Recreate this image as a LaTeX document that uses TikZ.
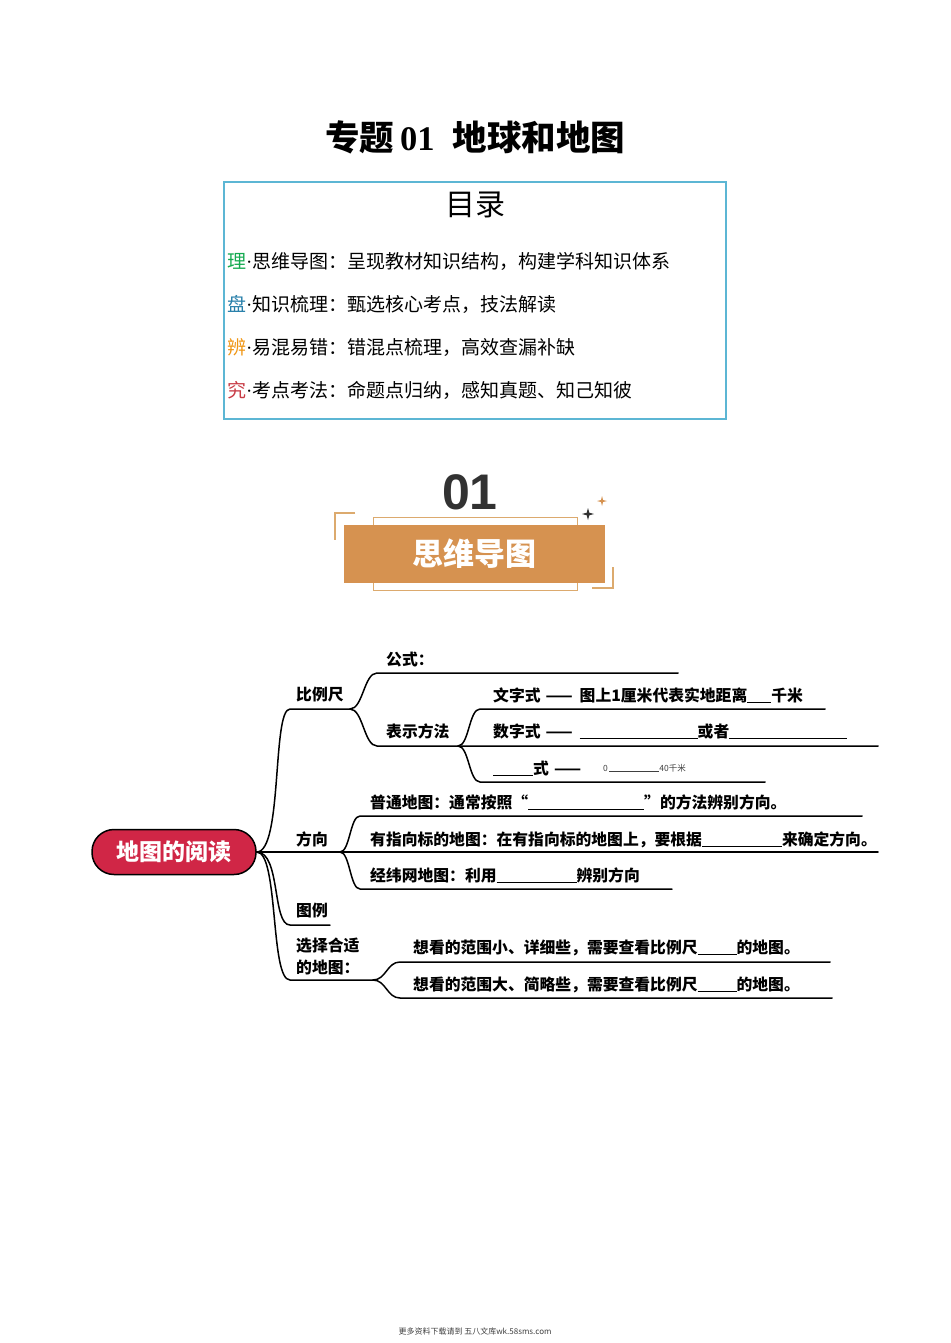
\documentclass[tikz,border=0pt]{standalone}
\usepackage{fontspec}
\setmainfont{Liberation Serif}
\newfontfamily\cjk{Noto Sans CJK SC}
\newfontfamily\numfont{Liberation Sans}
\usetikzlibrary{positioning}

\definecolor{tocblue}{RGB}{92,182,212}
\definecolor{tocgreen}{RGB}{20,170,80}
\definecolor{tocteal}{RGB}{40,128,170}
\definecolor{tocorange}{RGB}{240,150,20}
\definecolor{tocred}{RGB}{200,60,70}
\definecolor{badge}{RGB}{214,146,80}
\definecolor{badgeline}{RGB}{220,170,110}
\definecolor{rootred}{RGB}{208,38,70}
\definecolor{numgray}{RGB}{50,50,50}

% blank to fill in
\newcommand{\fillin}[1]{\rule[-1.5pt]{#1pt}{0.8pt}}
% long dash with room round it
\newcommand{\ldash}{\hspace{5pt}——\hspace{7pt}}

\tikzset{
  branch/.style={line width=1.5pt, line cap=round, line join=round},
  leaf/.style={anchor=base west, inner sep=0pt, font=\cjk\bfseries\fontsize{15.8}{18}\selectfont},
  tocline/.style={anchor=base west, inner sep=0pt, font=\cjk\fontsize{19}{21}\selectfont},
}

\begin{document}
\begin{tikzpicture}[x=1pt,y=-1pt]
  \fill[white] (0,0) rectangle (950,1343);
  \useasboundingbox (0,0) rectangle (950,1343);

  % title and contents
  \node[font=\cjk\bfseries\fontsize{34.5}{37}\selectfont] (title) at (475,137)
    {专题\hspace{6pt}{\rmfamily\bfseries 01}\hspace{18pt}地球和地图};
  \node[draw=tocblue, line width=1.6pt, minimum width=502pt, minimum height=237pt] (tocbox) at (475,300.5) {};
  \node[font=\cjk\fontsize{30}{32}\selectfont] (toctitle) at (475,205) {目录};
  \foreach \yy/\cc/\kk/\tt [count=\i] in {
      268/tocgreen/理/{思维导图：呈现教材知识结构，构建学科知识体系},
      311/tocteal/盘/{知识梳理：甄选核心考点，技法解读},
      354/tocorange/辨/{易混易错：错混点梳理，高效查漏补缺},
      397/tocred/究/{考点考法：命题点归纳，感知真题、知己知彼}}{
    \node[tocline] (toc\i) at (227,\yy) {\textcolor{\cc}{\kk}{\rmfamily\textperiodcentered}\tt};
  }

  % section badge
  \draw[badgeline, line width=0.8pt] (373,517) rectangle (577,590);
  \node[fill=badge, minimum width=261pt, minimum height=58pt, inner sep=0pt, text=white,
        font=\cjk\bfseries\fontsize{31}{33}\selectfont] (badgebox) at (474.5,554) {思维导图};
  \node[font=\numfont\bfseries\fontsize{50}{52}\selectfont, text=numgray] (badgenum) at (470,492) {01};
  \draw[badgeline, line width=2pt] (355,513) -- (335,513) -- (335,540);
  \draw[badgeline, line width=2pt] (592,588) -- (613,588) -- (613,567);
  \fill[numgray] (588,508) -- (589.3,512.7) -- (594,514) -- (589.3,515.3) -- (588,520)
    -- (586.7,515.3) -- (582,514) -- (586.7,512.7) -- cycle;
  \fill[badge] (602,496) -- (603,500) -- (607,501) -- (603,502) -- (602,506)
    -- (601,502) -- (597,501) -- (601,500) -- cycle;

  % mind map
  \node[draw=black, line width=1.5pt, fill=rootred, rounded corners=22pt, minimum width=164pt,
        minimum height=45pt, text=white, font=\cjk\bfseries\fontsize{23}{25}\selectfont] (root) at (174,852) {地图的阅读};

  \coordinate (scaleL) at (290,709);   \coordinate (scaleR) at (350,709);
  \coordinate (formulaL) at (377,673); \coordinate (formulaR) at (678,673);
  \coordinate (methodL) at (377,746);  \coordinate (methodR) at (458,746);
  \coordinate (wordL) at (480,709);    \coordinate (wordR) at (825,709);
  \coordinate (numR) at (878,746);
  \coordinate (graphL) at (480,782);   \coordinate (graphR) at (765,782);
  \coordinate (dirR) at (340,852);
  \coordinate (commonL) at (360,816);  \coordinate (commonR) at (862,816);
  \coordinate (arrowR) at (878,852);
  \coordinate (gridL) at (360,889);    \coordinate (gridR) at (672,889);
  \coordinate (legendL) at (290,925);  \coordinate (legendR) at (330,925);
  \coordinate (chooseL) at (290,980);  \coordinate (chooseR) at (373,980);
  \coordinate (smallL) at (400,962);   \coordinate (smallR) at (830,962);
  \coordinate (largeL) at (400,998);   \coordinate (largeR) at (832,998);

  \node[leaf] (formula) at (386,665) {公式：};
  \node[leaf] (scale) at (296,700) {比例尺};
  \node[leaf] (word) at (493,701) {文字式\ldash 图上1厘米代表实地距离\fillin{24}千米};
  \node[leaf] (method) at (386,737) {表示方法};
  \node[leaf] (num) at (493,737) {数字式\ldash\fillin{118}或者\fillin{118}};
  \node[leaf] (graph) at (493,774) {\fillin{40}式\ldash};
  \node[anchor=base west, inner sep=0pt, text=black!75, font=\cjk\fontsize{8.5}{9}\selectfont] (bar) at (603,771)
    {0\,\rule{50pt}{0.5pt}40千米};
  \node[leaf] (common) at (370,808) {普通地图：通常按照“\fillin{116}”的方法辨别方向。};
  \node[leaf] (dir) at (296,845) {方向};
  \node[leaf] (arrow) at (370,845) {有指向标的地图：在有指向标的地图上，要根据\fillin{80}来确定方向。};
  \node[leaf] (grid) at (370,881) {经纬网地图：利用\fillin{80}辨别方向};
  \node[leaf] (legend) at (296,916) {图例};
  \node[leaf] (choose) at (296,951) {选择合适};
  \node[leaf] (choose2) at (296,973) {的地图：};
  \node[leaf] (small) at (413,953) {想看的范围小、详细些，需要查看比例尺\fillin{39}的地图。};
  \node[leaf] (large) at (413,990) {想看的范围大、简略些，需要查看比例尺\fillin{39}的地图。};

  % branches from the root
  \draw[branch] (root.east) .. controls +(26,0) and +(-18,0) .. (scaleL) -- (scaleR);
  \draw[branch] (root.east) -- (dirR) -- (arrowR);
  \draw[branch] (root.east) .. controls +(24,0) and +(-18,0) .. (legendL) -- (legendR);
  \draw[branch] (root.east) .. controls +(22,0) and +(-20,0) .. (chooseL) -- (chooseR);
  % scale
  \draw[branch] (scaleR) .. controls +(13,0) and +(-13,0) .. (formulaL) -- (formulaR);
  \draw[branch] (scaleR) .. controls +(13,0) and +(-13,0) .. (methodL) -- (methodR) -- (numR);
  \draw[branch] (methodR) .. controls +(11,0) and +(-11,0) .. (wordL) -- (wordR);
  \draw[branch] (methodR) .. controls +(11,0) and +(-11,0) .. (graphL) -- (graphR);
  % direction
  \draw[branch] (dirR) .. controls +(10,0) and +(-10,0) .. (commonL) -- (commonR);
  \draw[branch] (dirR) .. controls +(10,0) and +(-10,0) .. (gridL) -- (gridR);
  % choosing a map
  \draw[branch] (chooseR) .. controls +(13,0) and +(-13,0) .. (smallL) -- (smallR);
  \draw[branch] (chooseR) .. controls +(13,0) and +(-13,0) .. (largeL) -- (largeR);

  \node[font=\cjk\fontsize{8}{9}\selectfont, text=black!75] (footer) at (475,1331)
    {更多资料下载请到 五八文库wk.58sms.com};
\end{tikzpicture}
\end{document}
